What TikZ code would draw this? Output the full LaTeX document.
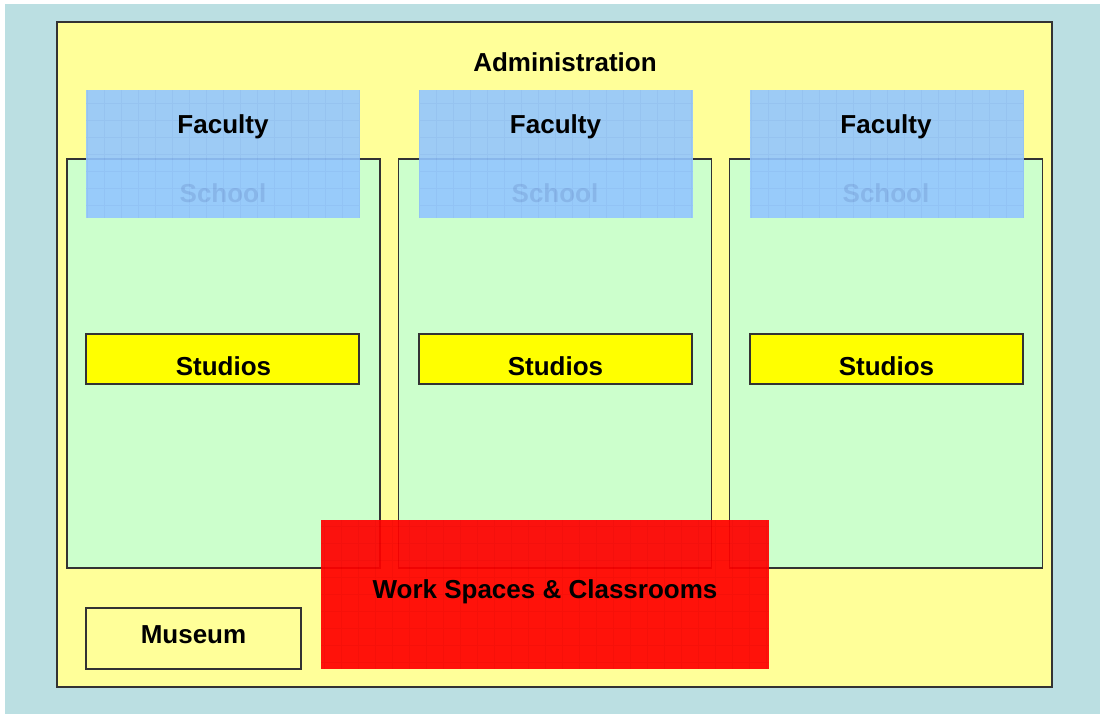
\documentclass[tikz,border=0pt]{standalone}
\usepackage{fontspec}
\setmainfont{Liberation Sans}

\definecolor{bgblue}{RGB}{187,223,226}
\definecolor{adminyellow}{RGB}{255,255,153}
\definecolor{schoolgreen}{RGB}{204,255,204}
\definecolor{facultyblue}{RGB}{147,198,255}
\definecolor{studioyellow}{RGB}{255,255,0}
\definecolor{edgegray}{RGB}{51,51,51}

\begin{document}
\begin{tikzpicture}[
  x=0.5pt, y=-0.5pt,
  font=\fontsize{13}{15}\selectfont\bfseries,
  box/.style={draw=edgegray, line width=0.75pt, inner sep=0pt, outer sep=0pt},
  school/.style={box, fill=schoolgreen, minimum width=156.5pt, minimum height=204.5pt},
  studio/.style={box, fill=studioyellow, minimum width=136.5pt, minimum height=25pt},
  faculty/.style={inner sep=0pt, outer sep=0pt, fill=facultyblue, fill opacity=0.9,
    minimum width=137pt, minimum height=64pt,
    path picture={\draw[blue!50!black, opacity=0.04, step=8.5pt]
      (path picture bounding box.south west) grid (path picture bounding box.north east);}},
  work/.style={inner sep=0pt, outer sep=0pt, fill=red, fill opacity=0.93,
    minimum width=224pt, minimum height=74.5pt,
    path picture={\draw[red!60!black, opacity=0.07, step=8.5pt]
      (path picture bounding box.south west) grid (path picture bounding box.north east);}},
  lbl/.style={anchor=base, inner sep=0pt}
]

\fill[white] (0,0) rectangle (1104,714);
\useasboundingbox (0,0) rectangle (1104,714);
\fill[bgblue] (5,4) rectangle (1100,714);

% administration
\node[box, fill=adminyellow, minimum width=497.5pt, minimum height=332.5pt] (admin) at (554.5,354.5) {};
\node[lbl] (adminlbl) at (565,71) {Administration};

% schools
\node[school] (school1) at (223.5,363.5) {};
\node[school] (school2) at (555,363.5) {};
\node[school] (school3) at (886,363.5) {};
\node[lbl, text=black!85] (schoollbl1) at (223,202) {School};
\node[lbl, text=black!85] (schoollbl2) at (555,202) {School};
\node[lbl, text=black!85] (schoollbl3) at (886,202) {School};

% studios
\node[studio] (studio1) at (222.5,359) {};
\node[studio] (studio2) at (555.5,359) {};
\node[studio] (studio3) at (886.5,359) {};
\node[lbl] (studiolbl1) at (223.5,375) {Studios};
\node[lbl] (studiolbl2) at (555.5,375) {Studios};
\node[lbl] (studiolbl3) at (886.5,375) {Studios};

% faculty, laid over the schools
\node[faculty] (faculty1) at (223,154) {};
\node[faculty] (faculty2) at (555.5,154) {};
\node[faculty] (faculty3) at (887,154) {};
\node[lbl] (facultylbl1) at (223,133) {Faculty};
\node[lbl] (facultylbl2) at (555.5,133) {Faculty};
\node[lbl] (facultylbl3) at (886,133) {Faculty};

% shared spaces
\node[work] (work) at (545,594.5) {};
\node[lbl] (worklbl) at (545,598) {Work Spaces \& Classrooms};

\node[box, fill=adminyellow, minimum width=107.5pt, minimum height=30.5pt] (museum) at (193.5,638.5) {};
\node[lbl] (museumlbl) at (193.5,643) {Museum};

\end{tikzpicture}
\end{document}
